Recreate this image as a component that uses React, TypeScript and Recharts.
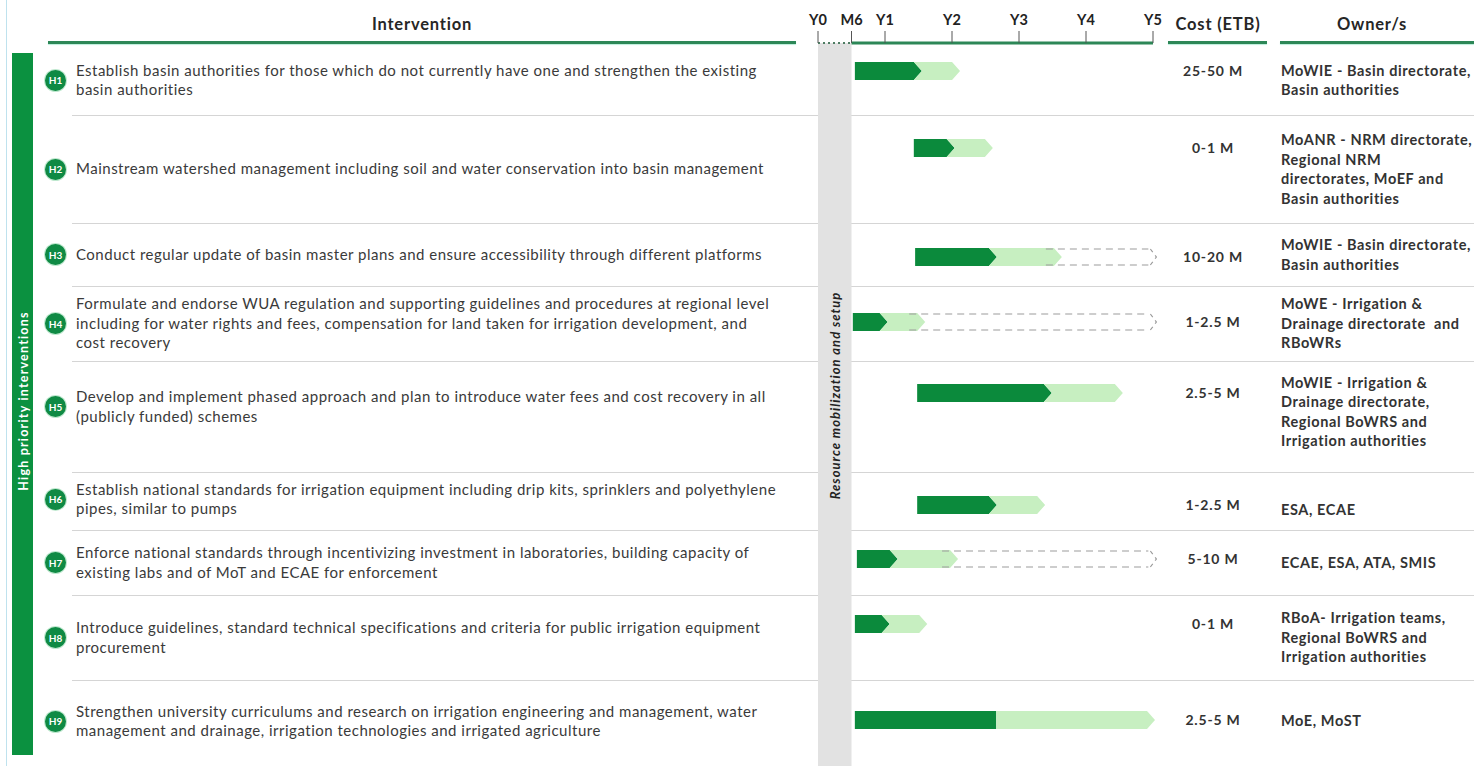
import React from 'react';
import { ComposedChart, Bar, XAxis, YAxis, ReferenceArea, ReferenceLine } from 'recharts';

// ---- Plan content ----
const IDS = ['H1', 'H2', 'H3', 'H4', 'H5', 'H6', 'H7', 'H8', 'H9'];

const INTERVENTIONS: string[][] = [
  ['Establish basin authorities for those which do not currently have one and strengthen the existing', 'basin authorities'],
  ['Mainstream watershed management including soil and water conservation into basin management'],
  ['Conduct regular update of basin master plans and ensure accessibility through different platforms'],
  [
    'Formulate and endorse WUA regulation and supporting guidelines and procedures at regional level',
    'including for water rights and fees, compensation for land taken for irrigation development, and',
    'cost recovery',
  ],
  ['Develop and implement phased approach and plan to introduce water fees and cost recovery in all', '(publicly funded) schemes'],
  ['Establish national standards for irrigation equipment including drip kits, sprinklers and polyethylene', 'pipes, similar to pumps'],
  ['Enforce national standards through incentivizing investment in laboratories, building capacity of', 'existing labs and of MoT and ECAE for enforcement'],
  ['Introduce guidelines, standard technical specifications and criteria for public irrigation equipment', 'procurement'],
  ['Strengthen university curriculums and research on irrigation engineering and management, water', 'management and drainage, irrigation technologies and irrigated agriculture'],
];

const COSTS = ['25-50 M', '0-1 M', '10-20 M', '1-2.5 M', '2.5-5 M', '1-2.5 M', '5-10 M', '0-1 M', '2.5-5 M'];

const OWNERS: string[][] = [
  ['MoWIE - Basin directorate,', 'Basin authorities'],
  ['MoANR - NRM directorate,', 'Regional NRM', 'directorates, MoEF and', 'Basin authorities'],
  ['MoWIE - Basin directorate,', 'Basin authorities'],
  ['MoWE - Irrigation &', 'Drainage directorate  and', 'RBoWRs'],
  ['MoWIE - Irrigation &', 'Drainage directorate,', 'Regional BoWRS and', 'Irrigation authorities'],
  ['ESA, ECAE'],
  ['ECAE, ESA, ATA, SMIS'],
  ['RBoA- Irrigation teams,', 'Regional BoWRS and', 'Irrigation authorities'],
  ['MoE, MoST'],
];

// Timing in years from Y0
const STARTS = [0.55, 1.43, 1.45, 0.52, 1.48, 1.48, 0.58, 0.55, 0.55];
const CORE_ENDS = [1.55, 2.04, 2.67, 1.04, 3.49, 2.67, 1.19, 1.07, 2.66];
const EXTENDED_ENDS = [2.12, 2.61, 3.64, 1.6, 4.55, 3.39, 2.09, 1.63, 5.03];
const OPTIONAL_ENDS: (number | null)[] = [null, null, 5.05, 5.05, null, null, 5.05, null, null];

const TIME_TICKS = [0, 0.5, 1, 2, 3, 4, 5];
const TIME_LABELS = ['Y0', 'M6', 'Y1', 'Y2', 'Y3', 'Y4', 'Y5'];
const SETUP_END = 0.5;
const SETUP_LABEL = 'Resource mobilization and setup';
const GROUP_LABEL = 'High priority interventions';

// ---- Layout ----
const PAGE_W = 1474;
const PAGE_H = 766;
const HEADER_H = 43;
const ROW_EDGES = [45, 115, 223, 286, 361, 472, 530, 595, 680, 762];
const LANE_Y = [71, 148, 257, 322, 393, 505, 559, 624, 720];
// small vertical nudges of the text blocks inside their rows
const TEXT_SHIFT = [0, 0, 0, 0, -10, -2, 0, 0, 0];
const OWNER_SHIFT = [0, 0, 0, 0, -5, 9, 0, 0, 0];
const CHART_LEFT = 790;
const CHART_W = 400;
const PLOT_LEFT = 818;
const YEAR_PX = 67;
const DOMAIN_MAX = 5.1;
const BAR_H = 18;
const TIP = 8;
const SETUP_LABEL_LIFT = 9;
const FLAT_JOIN = new Set(['H9']);

const DARK = '#0b8a3c';
const LIGHT = '#c7efc1';
const RULE = '#2d8757';
const FONT = 'Lato, "Noto Sans", sans-serif';

const ganttData = IDS.map((id, i) => ({
  id,
  lane: LANE_Y[i],
  lead: STARTS[i],
  core: CORE_ENDS[i] - STARTS[i],
  extended: EXTENDED_ENDS[i] - CORE_ENDS[i],
  optional: OPTIONAL_ENDS[i] != null ? (OPTIONAL_ENDS[i] as number) - EXTENDED_ENDS[i] : 0,
}));

const CoreShape = (props: any) => {
  const { x, y, width, height, payload } = props;
  if (!width || width <= 0) return null;
  const flat = FLAT_JOIN.has(payload?.id);
  const pts = flat
    ? [[x, y], [x + width, y], [x + width, y + height], [x, y + height]]
    : [[x, y], [x + width - TIP, y], [x + width, y + height / 2], [x + width - TIP, y + height], [x, y + height]];
  return <polygon points={pts.map((p) => p.join(',')).join(' ')} fill={DARK} />;
};

const ExtendedShape = (props: any) => {
  const { x, y, width, height, payload } = props;
  if (!width || width <= 0) return null;
  const flat = FLAT_JOIN.has(payload?.id);
  const left = flat
    ? [[x, y + height], [x, y]]
    : [[x - TIP, y + height], [x, y + height / 2], [x - TIP, y]];
  const pts = [...left, [x + width - TIP, y], [x + width, y + height / 2], [x + width - TIP, y + height]];
  return <polygon points={pts.map((p) => p.join(',')).join(' ')} fill={LIGHT} />;
};

const OptionalShape = (props: any) => {
  const { x, y, width, height } = props;
  if (!width || width <= 0) return null;
  const x0 = x - TIP * 2;
  const x1 = x + width - TIP;
  const top = y + 1;
  const bot = y + height - 1;
  return (
    <g fill="none" stroke="#9c9c9c" strokeWidth={1.2} strokeDasharray="7 5">
      <line x1={x0} y1={top} x2={x1} y2={top} />
      <line x1={x0} y1={bot} x2={x1} y2={bot} />
      <path d={`M${x1 + 2},${top} L${x + width},${y + height / 2} L${x1 + 2},${bot}`} strokeDasharray="4 4" />
    </g>
  );
};

// Vertical caption of the setup band
const SetupLabel = (props: any) => {
  const vb = props.viewBox || {};
  const cx = (vb.x ?? 0) + (vb.width ?? 0) / 2;
  const cy = (vb.y ?? 0) + (vb.height ?? 0) / 2 - SETUP_LABEL_LIFT;
  return (
    <text
      x={cx}
      y={cy}
      transform={`rotate(-90, ${cx}, ${cy})`}
      textAnchor="middle"
      dominantBaseline="central"
      fill="#222"
      fontSize={13}
      letterSpacing={1}
      fontStyle="italic"
      fontWeight={700}
      fontFamily={FONT}
    >
      {SETUP_LABEL}
    </text>
  );
};

const Badge = ({ label }: { label: string }) => (
  <div
    style={{
      width: 21,
      height: 21,
      borderRadius: '50%',
      background: '#0f8a44',
      color: '#fff',
      fontSize: 10,
      fontWeight: 700,
      display: 'flex',
      alignItems: 'center',
      justifyContent: 'center',
      flex: '0 0 auto',
      marginRight: 2,
      boxShadow: '0 0 0 1px #bfe8cf',
    }}
  >
    {label}
  </div>
);

const headerText: React.CSSProperties = {
  position: 'absolute',
  top: 13,
  fontSize: 16.5,
  letterSpacing: 0.8,
  fontWeight: 700,
  color: '#262626',
  textAlign: 'center',
  lineHeight: '22px',
};

const rule = (left: number, width: number): React.CSSProperties => ({
  position: 'absolute',
  left,
  width,
  top: 41,
  height: 3,
  background: RULE,
  boxShadow: '0 1px 1px #bdeedc',
});

export default function App() {
  const marginLeft = PLOT_LEFT - CHART_LEFT;
  const marginRight = CHART_W - marginLeft - DOMAIN_MAX * YEAR_PX;
  return (
    <div
      style={{
        position: 'relative',
        width: PAGE_W,
        height: PAGE_H,
        background: '#fff',
        overflow: 'hidden',
        fontFamily: FONT,
      }}
    >
      <style>{'body{margin:0}'}</style>

      {/* outer frame */}
      <div style={{ position: 'absolute', left: 6, top: 0, width: 1, height: PAGE_H, background: '#bfe2ee' }} />

      {/* column headers */}
      <div style={{ ...headerText, left: 48, width: 748 }}>Intervention</div>
      <div style={{ ...headerText, left: 1166, width: 104 }}>Cost (ETB)</div>
      <div style={{ ...headerText, left: 1280, width: 184 }}>Owner/s</div>
      <div style={rule(48, 748)} />
      <div style={rule(1168, 99)} />
      <div style={rule(1280, 194)} />

      {/* row separators */}
      {ROW_EDGES.slice(1, -1).map((e) => (
        <div key={e} style={{ position: 'absolute', left: 72, top: e, width: PAGE_W - 72, height: 1, background: '#d5d5d5' }} />
      ))}

      {/* group band */}
      <div
        style={{
          position: 'absolute',
          left: 12,
          top: 53,
          width: 21,
          height: 702,
          background: '#0b9140',
        }}
      >
        <div
          style={{
            position: 'absolute',
            left: 10.5,
            top: 348,
            transform: 'translate(-50%, -50%) rotate(-90deg)',
            whiteSpace: 'nowrap',
            color: '#fff',
            fontSize: 12.5,
            letterSpacing: 1.2,
            fontWeight: 700,
          }}
        >
          {GROUP_LABEL}
        </div>
      </div>

      {/* intervention rows */}
      {IDS.map((id, i) => (
        <div
          key={id}
          style={{
            position: 'absolute',
            left: 45,
            top: ROW_EDGES[i] + TEXT_SHIFT[i],
            height: ROW_EDGES[i + 1] - ROW_EDGES[i],
            width: 740,
            display: 'flex',
            alignItems: 'center',
          }}
        >
          <Badge label={id} />
          <div
            style={{
              fontSize: 15,
              letterSpacing: 0.5,
              lineHeight: '19.5px',
              color: '#3a3a3a',
              whiteSpace: 'nowrap',
              marginLeft: 8,
            }}
          >
            {INTERVENTIONS[i].map((l, k) => (
              <div key={k}>{l}</div>
            ))}
          </div>
        </div>
      ))}

      {/* costs */}
      {COSTS.map((c, i) => (
        <div
          key={i}
          style={{
            position: 'absolute',
            left: 1163,
            width: 100,
            top: LANE_Y[i] - 10,
            lineHeight: '20px',
            textAlign: 'center',
            fontSize: 14,
            letterSpacing: 0.8,
            fontWeight: 700,
            color: '#333',
          }}
        >
          {c}
        </div>
      ))}

      {/* owners */}
      {OWNERS.map((o, i) => (
        <div
          key={i}
          style={{
            position: 'absolute',
            left: 1281,
            top: ROW_EDGES[i] + OWNER_SHIFT[i],
            height: ROW_EDGES[i + 1] - ROW_EDGES[i],
            display: 'flex',
            alignItems: 'center',
          }}
        >
          <div
            style={{
              fontSize: 14.5,
              letterSpacing: 0.6,
              fontWeight: 700,
              lineHeight: '19.5px',
              color: '#333',
              whiteSpace: 'pre',
            }}
          >
            {o.map((l, k) => (
              <div key={k}>{l}</div>
            ))}
          </div>
        </div>
      ))}

      {/* timeline */}
      <div style={{ position: 'absolute', left: CHART_LEFT, top: 0 }}>
        <ComposedChart
          width={CHART_W}
          height={PAGE_H}
          data={ganttData}
          layout="vertical"
          margin={{ top: 0, right: marginRight, bottom: 0, left: marginLeft }}
          barSize={BAR_H}
          style={{ fontFamily: FONT }}
        >
          <XAxis
            type="number"
            orientation="top"
            domain={[0, DOMAIN_MAX]}
            ticks={TIME_TICKS}
            interval={0}
            tickFormatter={(v: number) => TIME_LABELS[TIME_TICKS.indexOf(v)]}
            axisLine={false}
            tickLine={{ stroke: '#555', strokeWidth: 1 }}
            tickSize={12}
            tickMargin={6}
            height={HEADER_H}
            tick={{ fill: '#222', fontSize: 14.5, fontWeight: 700 }}
            allowDataOverflow
          />
          <YAxis type="number" dataKey="lane" domain={[HEADER_H, PAGE_H]} hide width={0} allowDataOverflow />
          <ReferenceArea
            x1={0}
            x2={SETUP_END}
            fill="#e2e2e2"
            fillOpacity={1}
            ifOverflow="visible"
            label={<SetupLabel />}
          />
          <ReferenceLine
            segment={[{ x: SETUP_END, y: HEADER_H }, { x: 5, y: HEADER_H }]}
            stroke={RULE}
            strokeWidth={3}
            ifOverflow="visible"
          />
          <ReferenceLine
            segment={[{ x: 0, y: HEADER_H }, { x: SETUP_END, y: HEADER_H }]}
            stroke="#4f7d63"
            strokeWidth={2}
            strokeDasharray="2 3"
            ifOverflow="visible"
          />
          <Bar dataKey="lead" stackId="t" fill="transparent" isAnimationActive={false} />
          <Bar dataKey="core" stackId="t" shape={(p: any) => <CoreShape {...p} />} isAnimationActive={false} />
          <Bar dataKey="extended" stackId="t" shape={(p: any) => <ExtendedShape {...p} />} isAnimationActive={false} />
          <Bar dataKey="optional" stackId="t" shape={(p: any) => <OptionalShape {...p} />} isAnimationActive={false} />
        </ComposedChart>
      </div>
    </div>
  );
}
